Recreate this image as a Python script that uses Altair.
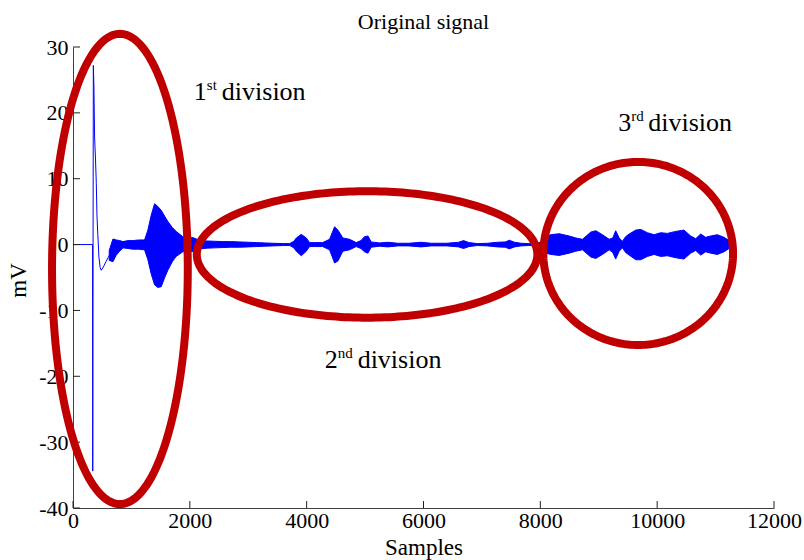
import altair as alt
import numpy as np
import pandas as pd

FONT = "Liberation Serif"
BLUE = "#0000FF"
RED = "#C00000"

TITLE = "Original signal"

# ---- signal: initial spike (samples, mV) ----
spike_x = [0, 335, 338, 348, 358, 370, 385, 399, 410, 425, 444, 465, 484, 520, 564, 600, 630]
spike_y = [0, 0, -34.4, 27.2, 24.0, 16.2, 13.0, 9.3, 4.5, 1.5, -1.9, -3.5, -3.9, -3.4, -2.6, -2.0, -1.5]

# ---- signal: oscillation envelope (samples, upper mV, lower mV) ----
env_x = [620, 684, 741, 800, 855, 940, 1025, 1120, 1225, 1282, 1340, 1396, 1450, 1510, 1570, 1624,
         1700, 1766, 1880, 1960, 2056, 2150, 2285, 2420, 2565, 2700, 2855, 3000, 3140, 3280, 3420,
         3600, 3710, 3780, 3823, 3908, 3994, 4050, 4150, 4273, 4392, 4478, 4535, 4620, 4734, 4848,
         4930, 4990, 5050, 5104, 5250, 5389, 5560, 5750, 5959, 6130, 6400, 6600, 6685, 6780, 6920,
         7100, 7265, 7400, 7470, 7560, 7668, 7800, 7950, 8020, 8100, 8180, 8322, 8494, 8608, 8722,
         8800, 8865, 8950, 9064, 9178, 9240, 9290, 9350, 9406, 9460, 9520, 9634, 9720, 9833, 9947,
         10061, 10175, 10318, 10459, 10574, 10660, 10745, 10830, 10916, 11030, 11145, 11230, 11270]
env_hi = [-0.9, 0.85, 0.7, 0.6, 0.45, 0.6, 0.6, 0.7, 0.7, 2.2, 4.5, 6.2, 5.8, 5.2, 4.3, 3.5,
          2.6, 2.0, 1.2, 1.1, 1.05, 0.7, 0.55, 0.5, 0.45, 0.45, 0.4, 0.35, 0.3, 0.25, 0.2,
          0.15, 0.15, 0.5, 1.0, 1.55, 1.0, 0.3, 0.3, 0.3, 0.8, 2.7, 2.2, 1.0, 0.8, 0.3,
          0.6, 1.2, 1.3, 0.4, 0.25, 0.35, 0.2, 0.2, 0.35, 0.2, 0.2, 0.35, 0.6, 0.3, 0.15,
          0.2, 0.35, 0.4, 0.65, 0.35, 0.2, 0.15, 0.15, 0.5, 1.3, 1.5, 1.65, 1.3, 1.0, 0.8,
          1.4, 1.9, 2.1, 1.5, 0.8, 1.0, 2.1, 1.0, 0.5, 1.2, 1.6, 2.2, 2.3, 1.8, 1.5,
          1.8, 1.7, 2.0, 2.2, 1.3, 0.9, 1.6, 1.1, 1.3, 1.5, 1.1, 0.6, 0.1]
env_lo = [-2.4, -2.6, -1.6, -1.0, -0.5, -0.6, -0.7, -0.7, -0.8, -2.3, -4.5, -6.1, -6.5, -6.4, -5.0, -3.9,
          -2.6, -1.8, -1.1, -1.0, -1.05, -0.7, -0.55, -0.5, -0.45, -0.4, -0.4, -0.35, -0.3, -0.25, -0.2,
          -0.15, -0.15, -0.5, -1.0, -1.7, -1.0, -0.3, -0.3, -0.3, -0.8, -2.8, -2.5, -1.0, -0.8, -0.3,
          -0.6, -1.1, -1.3, -0.4, -0.25, -0.35, -0.2, -0.2, -0.35, -0.2, -0.2, -0.35, -0.6, -0.3, -0.15,
          -0.2, -0.35, -0.4, -0.65, -0.35, -0.2, -0.15, -0.15, -0.5, -1.3, -1.5, -1.65, -1.3, -1.0, -0.8,
          -1.4, -1.9, -2.1, -1.5, -0.8, -1.2, -2.2, -1.0, -0.5, -1.2, -1.6, -2.3, -2.3, -1.8, -1.5,
          -1.8, -1.7, -2.0, -2.2, -1.3, -0.9, -1.6, -1.1, -1.3, -1.5, -1.1, -0.6, -0.1]

# ---- highlight ellipses (centre and semi-axes in data units) ----
ell_cx = [803, 5034, 9675]
ell_cy = [-3.7, -1.5, -1.35]
ell_rx = [1162, 2915, 1624]
ell_ry = [35.7, 9.6, 13.9]

# ---- annotations ----
lab_num = ["1", "2", "3"]
lab_sup = ["st", "nd", "rd"]
lab_x = [2291, 4530, 9556]
lab_y = [21.9, -18.7, 17.2]
lab_gap = [15, 20, 17]

x_ticks = [0, 2000, 4000, 6000, 8000, 10000, 12000]
y_ticks = [-40, -30, -20, -10, 0, 10, 20, 30]

W, H = 701, 461

xs = alt.Scale(domain=[0, 12000], nice=False, zero=False)
ys = alt.Scale(domain=[-40, 30], nice=False, zero=False)

lab_expr = "datum.value < 0 ? '-' + (-datum.value) : '' + datum.value"

x_axis = alt.Axis(values=x_ticks, ticks=False, tickSize=0, grid=False, domainColor="#404040",
                  labelFont=FONT, labelFontSize=22, labelColor="black", labelPadding=2,
                  labelFlush=False, labelOverlap=False, labelExpr=lab_expr,
                  titleFont=FONT, titleFontSize=23, titleFontWeight="normal", titleColor="black",
                  titleY=28)
y_axis = alt.Axis(values=y_ticks, ticks=False, tickSize=0, grid=False, domainColor="#404040",
                  labelFont=FONT, labelFontSize=22, labelColor="black", labelPadding=5,
                  labelFlush=False, labelOverlap=False, labelExpr=lab_expr,
                  titleFont=FONT, titleFontSize=23, titleFontWeight="normal", titleColor="black",
                  titleX=-43, titleY=233)

df_spike = pd.DataFrame({"x": spike_x, "y": spike_y, "i": range(len(spike_x))})
df_env = pd.DataFrame({"x": env_x, "hi": env_hi, "lo": env_lo})

spike = alt.Chart(df_spike).mark_line(color=BLUE, strokeWidth=1).encode(
    x=alt.X("x:Q", scale=xs, axis=x_axis, title="Samples"),
    y=alt.Y("y:Q", scale=ys, axis=y_axis, title="mV"),
    order="i:Q",
)

band = alt.Chart(df_env).mark_area(color=BLUE, stroke=BLUE, strokeWidth=1, opacity=1).encode(
    x=alt.X("x:Q", scale=xs),
    y=alt.Y("hi:Q", scale=ys),
    y2="lo:Q",
)

rows = []
ang = np.linspace(0, 2 * np.pi, 241)
for k in range(len(ell_cx)):
    for j, a in enumerate(ang):
        rows.append({"id": k, "k": j,
                     "x": ell_cx[k] + ell_rx[k] * np.cos(a),
                     "y": ell_cy[k] + ell_ry[k] * np.sin(a)})
df_ell = pd.DataFrame(rows)

ellipses = alt.Chart(df_ell).mark_line(color=RED, strokeWidth=8, strokeCap="round").encode(
    x=alt.X("x:Q", scale=xs),
    y=alt.Y("y:Q", scale=ys),
    detail="id:N",
    order="k:Q",
)

df_xt = pd.DataFrame({"v": x_ticks})
df_yt = pd.DataFrame({"v": y_ticks})
xt = alt.Chart(df_xt).mark_rule(color="#202020", strokeWidth=1).encode(
    x=alt.X("v:Q", scale=xs), y=alt.value(H), y2=alt.value(H - 7))
yt = alt.Chart(df_yt).mark_rule(color="#202020", strokeWidth=1).encode(
    y=alt.Y("v:Q", scale=ys), x=alt.value(0), x2=alt.value(7))

df_lab = pd.DataFrame({"x": lab_x, "y": lab_y, "num": lab_num, "sup": lab_sup})
nums = alt.Chart(df_lab).mark_text(font=FONT, fontSize=26, align="right", baseline="alphabetic",
                                   color="black").encode(
    x=alt.X("x:Q", scale=xs), y=alt.Y("y:Q", scale=ys), text="num:N")
sups = alt.Chart(df_lab).mark_text(font=FONT, fontSize=15, align="left", baseline="alphabetic",
                                   dy=-10, color="black").encode(
    x=alt.X("x:Q", scale=xs), y=alt.Y("y:Q", scale=ys), text="sup:N")

words = []
for k in range(len(lab_x)):
    dfk = pd.DataFrame({"x": [lab_x[k]], "y": [lab_y[k]], "t": ["division"]})
    words.append(alt.Chart(dfk).mark_text(font=FONT, fontSize=26, align="left",
                                          baseline="alphabetic", dx=lab_gap[k],
                                          color="black").encode(
        x=alt.X("x:Q", scale=xs), y=alt.Y("y:Q", scale=ys), text="t:N"))

title_mark = alt.Chart(pd.DataFrame({"t": [TITLE]})).mark_text(
    font=FONT, fontSize=22, align="center", baseline="alphabetic", color="black").encode(
    x=alt.value(W / 2), y=alt.value(-18), text="t:N")

chart = alt.layer(spike, band, xt, yt, ellipses, nums, sups, *words, title_mark).properties(
    width=W, height=H,
    autosize="none",
    padding={"left": 73, "top": 47, "right": 30, "bottom": 52},
).configure(background="white").configure_view(strokeWidth=0)

chart.save("out.html", embed_options={"renderer": "svg", "actions": False})
